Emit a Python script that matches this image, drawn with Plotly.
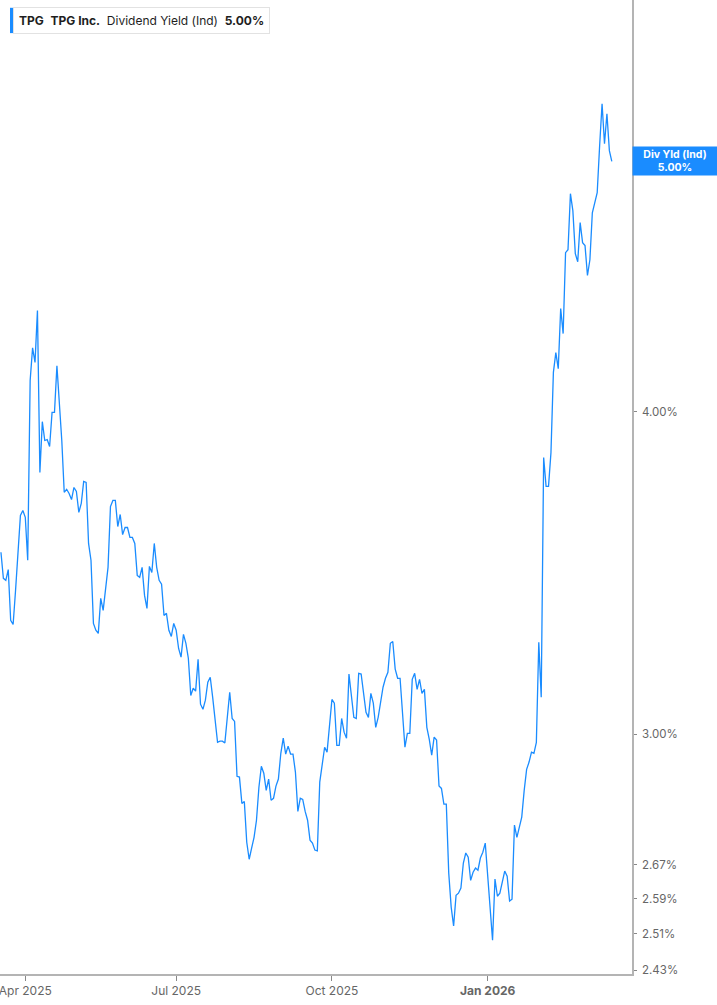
import math

import pandas as pd
import plotly.graph_objects as go

# TPG Inc. indicated dividend yield (%), one value per trading day from 2025-03-18
DIV_YIELD = [
    3.528, 3.447, 3.441, 3.474, 3.320, 3.308, 3.410, 3.534, 3.646, 3.662, 3.640,
    3.503, 4.112, 4.234, 4.179, 4.377, 3.788, 3.964, 3.898, 3.901, 3.877, 3.997,
    3.997, 4.167, 4.039, 3.898, 3.722, 3.732, 3.718, 3.698, 3.738, 3.725, 3.656,
    3.685, 3.758, 3.755, 3.556, 3.503, 3.311, 3.291, 3.282, 3.386, 3.350, 3.410,
    3.481, 3.675, 3.695, 3.695, 3.610, 3.649, 3.584, 3.607, 3.607, 3.575,
    3.575, 3.556, 3.456, 3.450, 3.481, 3.395, 3.356, 3.484, 3.465, 3.556, 3.481,
    3.441, 3.429, 3.335, 3.341, 3.291, 3.273, 3.311, 3.291, 3.238, 3.213, 3.279,
    3.253, 3.210, 3.105, 3.125, 3.117, 3.207, 3.081, 3.067, 3.092, 3.142, 3.156,
    3.100, 3.029, 2.978, 2.981, 2.981, 2.976, 3.045, 3.114, 3.042, 3.034, 2.889,
    2.887, 2.820, 2.825, 2.724, 2.683, 2.710, 2.736, 2.778, 2.861, 2.915, 2.897,
    2.853, 2.882, 2.828, 2.833, 2.864, 2.882, 2.949, 2.989, 2.947, 2.968, 2.947,
    2.947, 2.900, 2.800, 2.833, 2.830, 2.800, 2.778, 2.729, 2.722, 2.705, 2.703,
    2.874, 2.913, 2.965, 2.952, 3.029, 3.094, 3.084, 2.970, 2.970, 3.042, 3.005,
    2.989, 3.165, 3.111, 3.045, 3.042, 3.167, 3.165, 3.114, 3.059, 3.045, 3.111,
    3.084, 3.018, 3.045, 3.092, 3.128, 3.153, 3.170, 3.253, 3.258, 3.179, 3.153,
    3.153, 3.064, 2.965, 3.002, 3.002, 3.150, 3.167, 3.122, 3.150, 3.111, 3.122,
    3.018, 2.986, 2.944, 2.992, 2.984, 2.864, 2.858, 2.818, 2.818,
    2.650, 2.571, 2.528, 2.598, 2.603, 2.615, 2.674, 2.698, 2.688, 2.633, 2.652,
    2.662, 2.657, 2.686, 2.700, 2.722, 2.640, 2.564, 2.496, 2.636, 2.596, 2.603,
    2.633, 2.655, 2.643, 2.585, 2.589, 2.766, 2.736, 2.761, 2.786, 2.853, 2.907,
    2.926, 2.952, 2.949, 2.978, 3.256, 3.100, 3.839, 3.742, 3.742, 3.856, 4.142,
    4.216, 4.156, 4.385, 4.288, 4.609, 4.621, 4.858, 4.785, 4.605, 4.572, 4.734,
    4.650, 4.638, 4.516, 4.580, 4.776, 4.815, 4.862, 5.070, 5.264, 5.079, 5.217,
    5.048, 5.000,
]

MARKET_HOLIDAYS = [
    "2025-04-18", "2025-05-26", "2025-06-19", "2025-07-04", "2025-09-01",
    "2025-11-27", "2025-12-25", "2026-01-01", "2026-01-19", "2026-02-16",
]

X_TICK_DATES = ["2025-04-01", "2025-07-01", "2025-10-01", "2026-01-02"]
X_TICK_LABELS = ["Apr 2025", "Jul 2025", "Oct 2025", "<b>Jan 2026</b>"]

Y_TICKS = [2.43, 2.51, 2.59, 2.67, 3.00, 4.00]

LINE_BLUE = "#1a8cff"
TEXT_GREY = "#666666"
AXIS_GREY = "#b4b4b4"

dates = pd.bdate_range(start="2025-03-18", periods=len(DIV_YIELD), freq="C",
                       holidays=MARKET_HOLIDAYS).strftime("%Y-%m-%d").tolist()

fig = go.Figure(go.Scatter(
    x=dates, y=DIV_YIELD, mode="lines",
    line=dict(color=LINE_BLUE, width=1.3),
    name="Dividend Yield (Ind)",
))

fig.update_layout(
    width=717, height=1005,
    margin=dict(l=0, r=85, t=0, b=31),
    paper_bgcolor="white", plot_bgcolor="white",
    showlegend=False,
    font=dict(family="Inter, Roboto, sans-serif", size=12, color=TEXT_GREY),
)

fig.update_xaxes(
    type="category",
    range=[-0.39, 259.3],
    tickvals=X_TICK_DATES, ticktext=X_TICK_LABELS,
    showgrid=False, zeroline=False,
    showline=True, linecolor=AXIS_GREY, linewidth=1.5,
    ticks="outside", ticklen=5, tickcolor="#888888",
    tickfont=dict(size=12, color=TEXT_GREY),
)

fig.update_yaxes(
    type="log", side="right",
    range=[math.log10(2.422), math.log10(5.774)],
    tickvals=Y_TICKS, ticktext=[f"{v:.2f}%" for v in Y_TICKS],
    showgrid=False, zeroline=False,
    showline=True, linecolor=AXIS_GREY, linewidth=1.5,
    ticks="outside", ticklen=3, tickcolor="#888888",
    ticklabelstandoff=3,
    tickfont=dict(size=11.5, color=TEXT_GREY),
)

last = DIV_YIELD[-1]

# header box, top left
fig.add_annotation(
    xref="paper", yref="paper", x=0.0206, y=0.979,
    xanchor="left", yanchor="middle",
    text=("<b>TPG</b>  <b>TPG Inc.</b>  Dividend Yield (Ind)  "
          f"<b>{last:.2f}%</b>"),
    showarrow=False,
    font=dict(size=12, color="#1e1e1e"),
    bgcolor="white", bordercolor="#e2e2e2", borderwidth=1, borderpad=5,
)
fig.add_shape(
    type="rect", xref="paper", yref="paper",
    x0=0.0158, x1=0.0206, y0=0.966, y1=0.992,
    fillcolor=LINE_BLUE, line=dict(width=0),
)

# last-value tag on the right axis
fig.add_annotation(
    xref="paper", yref="y", x=1, y=math.log10(last),
    xanchor="left", yanchor="middle",
    text=f"<b>Div Yld (Ind)</b><br><b>{last:.2f}%</b>",
    showarrow=False, align="center", width=83,
    font=dict(size=10.5, color="white"),
    bgcolor=LINE_BLUE, borderpad=0.5,
)

fig.write_html("out.html", config={"displayModeBar": False},
               post_script="document.body.style.margin = '0';")
